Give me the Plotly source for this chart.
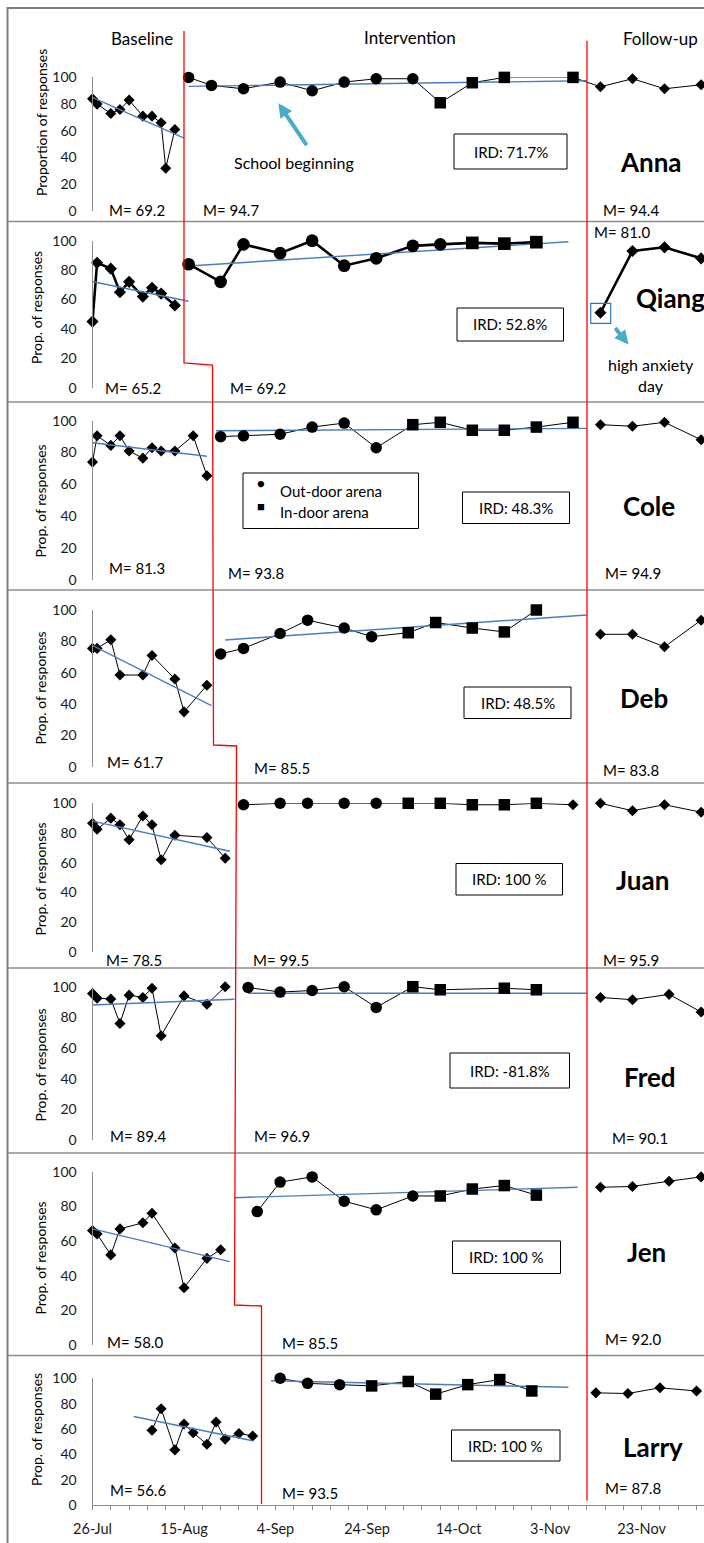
import datetime as dt
import plotly.graph_objects as go

# ---------------- data ----------------
participants = ["Anna", "Qiang", "Cole", "Deb", "Juan", "Fred", "Jen", "Larry"]
y_titles = ["Proportion of responses"] + ["Prop. of responses"] * 7
phase_names = ["Baseline", "Intervention", "Follow-up"]
m_baseline = ["69.2", "65.2", "81.3", "61.7", "78.5", "89.4", "58.0", "56.6"]
m_intervention = ["94.7", "69.2", "93.8", "85.5", "99.5", "96.9", "85.5", "93.5"]
m_followup = ["94.4", "81.0", "94.9", "83.8", "95.9", "90.1", "92.0", "87.8"]
ird_values = ["71.7%", "52.8%", "48.3%", "48.5%", "100 %", "-81.8%", "100 %", "100 %"]
x_tick_dates = ["2010-07-26", "2010-08-15", "2010-09-04", "2010-09-24",
                "2010-10-14", "2010-11-03", "2010-11-23"]
x_tick_labels = ["26-Jul", "15-Aug", "4-Sep", "24-Sep", "14-Oct", "3-Nov", "23-Nov"]
y_ticks = [0, 20, 40, 60, 80, 100]
legend_labels = ["Out-door arena", "In-door arena"]

# Anna
anna_bl_dates = ["2010-07-26", "2010-07-27", "2010-07-30", "2010-08-01", "2010-08-03",
                 "2010-08-06", "2010-08-08", "2010-08-10", "2010-08-11", "2010-08-13"]
anna_bl_vals = [84, 80, 73, 76, 83, 71, 71, 66, 32, 61]
anna_bl_trend_dates = ["2010-07-25", "2010-08-15"]
anna_bl_trend_vals = [86.5, 54.5]
anna_int_dates = ["2010-08-16", "2010-08-21", "2010-08-28", "2010-09-05", "2010-09-12",
                  "2010-09-19", "2010-09-26", "2010-10-04", "2010-10-10", "2010-10-17",
                  "2010-10-24", "2010-11-08"]
anna_int_vals = [100, 94, 91.5, 96.5, 90, 96.5, 99, 99, 81, 96, 100, 100]
anna_int_arena = ["out", "out", "out", "out", "out", "out", "out", "out", "in", "in", "in", "in"]
anna_int_trend_dates = ["2010-08-16", "2010-11-11"]
anna_int_trend_vals = [93.3, 97.5]
anna_fu_dates = ["2010-11-14", "2010-11-21", "2010-11-28", "2010-12-06"]
anna_fu_vals = [93, 99, 91.5, 94.5]

# Qiang
qiang_bl_dates = ["2010-07-26", "2010-07-27", "2010-07-30", "2010-08-01", "2010-08-03",
                  "2010-08-06", "2010-08-08", "2010-08-10", "2010-08-13"]
qiang_bl_vals = [45, 85, 81, 65, 72, 62, 68, 64, 56]
qiang_bl_trend_dates = ["2010-07-25", "2010-08-16"]
qiang_bl_trend_vals = [72.8, 58.8]
qiang_int_dates = ["2010-08-16", "2010-08-23", "2010-08-28", "2010-09-05", "2010-09-12",
                   "2010-09-19", "2010-09-26", "2010-10-04", "2010-10-10", "2010-10-17",
                   "2010-10-24", "2010-10-31"]
qiang_int_vals = [84, 72, 97.5, 91.5, 100, 83, 88, 96.5, 97.5, 98.5, 98, 99]
qiang_int_arena = ["out", "out", "out", "out", "out", "out", "out", "out", "out", "in", "in", "in"]
qiang_int_trend_dates = ["2010-08-16", "2010-11-07"]
qiang_int_trend_vals = [82.8, 99.3]
qiang_fu_dates = ["2010-11-14", "2010-11-21", "2010-11-28", "2010-12-06"]
qiang_fu_vals = [51, 93, 95.5, 88]

# Cole
cole_bl_dates = ["2010-07-26", "2010-07-27", "2010-07-30", "2010-08-01", "2010-08-03",
                 "2010-08-06", "2010-08-08", "2010-08-10", "2010-08-13", "2010-08-17",
                 "2010-08-20"]
cole_bl_vals = [74, 90.5, 84.5, 90.5, 81, 76.5, 83, 81, 81, 90.5, 65.5]
cole_bl_trend_dates = ["2010-07-26", "2010-08-20"]
cole_bl_trend_vals = [86.2, 77.7]
cole_int_dates = ["2010-08-23", "2010-08-28", "2010-09-05", "2010-09-12", "2010-09-19",
                  "2010-09-26", "2010-10-04", "2010-10-10", "2010-10-17", "2010-10-24",
                  "2010-10-31", "2010-11-08"]
cole_int_vals = [90, 90.5, 91.5, 96, 98.5, 83, 97.5, 99, 94, 94, 96, 99]
cole_int_arena = ["out", "out", "out", "out", "out", "out", "in", "in", "in", "in", "in", "in"]
cole_int_trend_dates = ["2010-08-22", "2010-11-11"]
cole_int_trend_vals = [93.7, 95.2]
cole_fu_dates = ["2010-11-14", "2010-11-21", "2010-11-28", "2010-12-06"]
cole_fu_vals = [97.5, 96.5, 99, 88]

# Deb
deb_bl_dates = ["2010-07-26", "2010-07-27", "2010-07-30", "2010-08-01", "2010-08-06",
                "2010-08-08", "2010-08-13", "2010-08-15", "2010-08-20"]
deb_bl_vals = [75.5, 75.5, 81, 58.5, 58.5, 71, 56, 35, 52]
deb_bl_trend_dates = ["2010-07-25", "2010-08-21"]
deb_bl_trend_vals = [78.8, 39]
deb_int_dates = ["2010-08-23", "2010-08-28", "2010-09-05", "2010-09-11", "2010-09-19",
                 "2010-09-25", "2010-10-03", "2010-10-09", "2010-10-17", "2010-10-24",
                 "2010-10-31"]
deb_int_vals = [72, 75.5, 85, 93.5, 88.5, 83, 85.5, 92, 88.5, 86, 100]
deb_int_arena = ["out", "out", "out", "out", "out", "out", "in", "in", "in", "in", "in"]
deb_int_trend_dates = ["2010-08-24", "2010-11-11"]
deb_int_trend_vals = [80.9, 96.8]
deb_fu_dates = ["2010-11-14", "2010-11-21", "2010-11-28", "2010-12-06"]
deb_fu_vals = [84.5, 84.5, 76.5, 93.5]

# Juan
juan_bl_dates = ["2010-07-26", "2010-07-27", "2010-07-30", "2010-08-01", "2010-08-03",
                 "2010-08-06", "2010-08-08", "2010-08-10", "2010-08-13", "2010-08-20",
                 "2010-08-24"]
juan_bl_vals = [86.5, 82.5, 90, 85.5, 75.5, 91.5, 85.5, 62, 78.5, 77, 63]
juan_bl_trend_dates = ["2010-07-26", "2010-08-25"]
juan_bl_trend_vals = [88, 67.7]
juan_int_dates = ["2010-08-28", "2010-09-05", "2010-09-11", "2010-09-19", "2010-09-26",
                  "2010-10-03", "2010-10-10", "2010-10-17", "2010-10-24", "2010-10-31",
                  "2010-11-08"]
juan_int_vals = [99, 100, 100, 100, 100, 100, 100, 99, 99, 100, 99]
juan_int_arena = ["out", "out", "out", "out", "out", "in", "in", "in", "in", "in", "other"]
juan_int_trend_dates = []
juan_int_trend_vals = []
juan_fu_dates = ["2010-11-14", "2010-11-21", "2010-11-28", "2010-12-06"]
juan_fu_vals = [100, 95, 99, 94]

# Fred
fred_bl_dates = ["2010-07-26", "2010-07-27", "2010-07-30", "2010-08-01", "2010-08-03",
                 "2010-08-06", "2010-08-08", "2010-08-10", "2010-08-15", "2010-08-20",
                 "2010-08-24"]
fred_bl_vals = [95.5, 92.5, 92, 76, 94.5, 93, 99, 68, 94, 88.5, 100]
fred_bl_trend_dates = ["2010-07-26", "2010-08-26"]
fred_bl_trend_vals = [88.1, 91.8]
fred_int_dates = ["2010-08-29", "2010-09-05", "2010-09-12", "2010-09-19", "2010-09-26",
                  "2010-10-04", "2010-10-10", "2010-10-24", "2010-10-31"]
fred_int_vals = [99.5, 96.5, 97.5, 100, 86.5, 100, 98, 99, 98]
fred_int_arena = ["out", "out", "out", "out", "out", "in", "in", "in", "in"]
fred_int_trend_dates = ["2010-08-29", "2010-11-11"]
fred_int_trend_vals = [95.7, 95.7]
fred_fu_dates = ["2010-11-14", "2010-11-21", "2010-11-29", "2010-12-06"]
fred_fu_vals = [93, 91.5, 95, 83.5]

# Jen
jen_bl_dates = ["2010-07-26", "2010-07-27", "2010-07-30", "2010-08-01", "2010-08-06",
                "2010-08-08", "2010-08-13", "2010-08-15", "2010-08-20", "2010-08-23"]
jen_bl_vals = [66, 64, 52, 67, 70.5, 76, 56, 33, 50, 55]
jen_bl_trend_dates = ["2010-07-26", "2010-08-25"]
jen_bl_trend_vals = [67, 48.1]
jen_int_dates = ["2010-08-31", "2010-09-05", "2010-09-12", "2010-09-19", "2010-09-26",
                 "2010-10-04", "2010-10-10", "2010-10-17", "2010-10-24", "2010-10-31"]
jen_int_vals = [77, 94, 97, 83, 78, 86, 86, 90, 92, 86.5]
jen_int_arena = ["out", "out", "out", "out", "out", "out", "in", "in", "in", "in"]
jen_int_trend_dates = ["2010-08-26", "2010-11-09"]
jen_int_trend_vals = [85, 91]
jen_fu_dates = ["2010-11-14", "2010-11-21", "2010-11-29", "2010-12-06"]
jen_fu_vals = [91, 91.5, 94.5, 97]

# Larry
larry_bl_dates = ["2010-08-08", "2010-08-10", "2010-08-13", "2010-08-15", "2010-08-17",
                  "2010-08-20", "2010-08-22", "2010-08-24", "2010-08-27", "2010-08-30"]
larry_bl_vals = [59, 76, 43.5, 64, 57, 48, 65.5, 52, 56.5, 54.5]
larry_bl_trend_dates = ["2010-08-04", "2010-08-30"]
larry_bl_trend_vals = [69.9, 50.7]
larry_int_dates = ["2010-09-05", "2010-09-11", "2010-09-18", "2010-09-25", "2010-10-03",
                   "2010-10-09", "2010-10-16", "2010-10-23", "2010-10-30"]
larry_int_vals = [100, 96, 95, 94, 97.5, 87.5, 95, 99, 90]
larry_int_arena = ["out", "out", "out", "in", "in", "in", "in", "in", "in"]
larry_int_trend_dates = ["2010-09-03", "2010-11-07"]
larry_int_trend_vals = [98.1, 92.9]
larry_fu_dates = ["2010-11-13", "2010-11-20", "2010-11-27", "2010-12-05"]
larry_fu_vals = [88.5, 88, 92.5, 90]

series = [
    (anna_bl_dates, anna_bl_vals, anna_bl_trend_dates, anna_bl_trend_vals, anna_int_dates, anna_int_vals,
     anna_int_arena, anna_int_trend_dates, anna_int_trend_vals, anna_fu_dates, anna_fu_vals),
    (qiang_bl_dates, qiang_bl_vals, qiang_bl_trend_dates, qiang_bl_trend_vals, qiang_int_dates, qiang_int_vals,
     qiang_int_arena, qiang_int_trend_dates, qiang_int_trend_vals, qiang_fu_dates, qiang_fu_vals),
    (cole_bl_dates, cole_bl_vals, cole_bl_trend_dates, cole_bl_trend_vals, cole_int_dates, cole_int_vals,
     cole_int_arena, cole_int_trend_dates, cole_int_trend_vals, cole_fu_dates, cole_fu_vals),
    (deb_bl_dates, deb_bl_vals, deb_bl_trend_dates, deb_bl_trend_vals, deb_int_dates, deb_int_vals,
     deb_int_arena, deb_int_trend_dates, deb_int_trend_vals, deb_fu_dates, deb_fu_vals),
    (juan_bl_dates, juan_bl_vals, juan_bl_trend_dates, juan_bl_trend_vals, juan_int_dates, juan_int_vals,
     juan_int_arena, juan_int_trend_dates, juan_int_trend_vals, juan_fu_dates, juan_fu_vals),
    (fred_bl_dates, fred_bl_vals, fred_bl_trend_dates, fred_bl_trend_vals, fred_int_dates, fred_int_vals,
     fred_int_arena, fred_int_trend_dates, fred_int_trend_vals, fred_fu_dates, fred_fu_vals),
    (jen_bl_dates, jen_bl_vals, jen_bl_trend_dates, jen_bl_trend_vals, jen_int_dates, jen_int_vals,
     jen_int_arena, jen_int_trend_dates, jen_int_trend_vals, jen_fu_dates, jen_fu_vals),
    (larry_bl_dates, larry_bl_vals, larry_bl_trend_dates, larry_bl_trend_vals, larry_int_dates, larry_int_vals,
     larry_int_arena, larry_int_trend_dates, larry_int_trend_vals, larry_fu_dates, larry_fu_vals),
]

# ---------------- layout / style ----------------
W, H = 704, 1543
FONT = "Lato"
BLUE = "#4a7ebb"
TEAL = "#4bacc6"
RED = "#ff0000"
GRAY = "#7f7f7f"
AX_X = 92.5           # pixel column of the first date
PX_PER_DAY = 4.576
DAY0 = dt.datetime(2010, 7, 26)
X_END = DAY0 + dt.timedelta(days=(W - AX_X) / PX_PER_DAY)
DAY_MS = 86400000
SYMBOL = {"out": "circle", "in": "square", "other": "diamond"}


def fx(p):
    return p / W


def fy(p):
    return 1 - p / H


# per panel pixel geometry: (y of 0, y of 100)
panel_y = [(211, 77.4), (387.7, 240.7), (580, 420.7), (766.7, 610),
           (951.7, 803.3), (1140, 986.7), (1345, 1171.7), (1505, 1378.3)]
m_pos = [[(137, 210), (231, 210), (631, 210)],
         [(132.5, 388), (258, 388), (622, 232)],
         [(137, 568), (256, 573), (633, 573)],
         [(135, 762), (282, 768), (631, 770)],
         [(134, 960), (281, 960), (631, 960)],
         [(138, 1136), (282, 1136), (640, 1138)],
         [(135, 1342), (310, 1343), (633, 1339)],
         [(138, 1490), (310, 1493), (633, 1488)]]
ird_box = [(454, 567, 134, 169), (457, 563.5, 308, 341), (462.5, 569.5, 492, 523.5),
           (464, 571, 687, 718.5), (456, 562.5, 863.5, 895), (450, 569.5, 1053, 1088),
           (452.5, 560.5, 1241, 1273.5), (451.5, 560, 1430, 1461)]
name_pos = [(651, 162), (670, 298), (649, 506), (644, 698), (642, 880), (650, 1077),
            (646, 1252), (653, 1447)]
ytitle_pos = [(42, 123), (36, 308), (39.5, 501), (39.5, 688), (39.5, 879), (39.5, 1065),
              (39.5, 1258), (36, 1430)]

fig = go.Figure()
layout_axes = {}
for i, s in enumerate(series):
    (bl_d, bl_v, blt_d, blt_v, in_d, in_v, in_a, int_d, int_v, fu_d, fu_v) = s
    yname = "y" if i == 0 else f"y{i + 1}"
    bold = participants[i] == "Qiang"
    lw = 2.6 if bold else 1
    msz = 1.1 if bold else 1.0
    common = dict(xaxis="x", yaxis=yname, showlegend=False, cliponaxis=False, hoverinfo="skip")
    dia = dict(symbol="diamond", size=8.5 * msz, color="black", opacity=1, line=dict(width=0))
    # baseline
    fig.add_trace(go.Scatter(x=bl_d, y=bl_v, mode="lines+markers",
                             line=dict(color="black", width=lw), marker=dia, **common))
    fig.add_trace(go.Scatter(x=blt_d, y=blt_v, mode="lines", line=dict(color=BLUE, width=1.4), **common))
    # intervention
    if participants[i] == "Anna":
        fig.add_trace(go.Scatter(x=[in_d[-1], fu_d[0]], y=[in_v[-1], fu_v[0]], mode="lines",
                                 line=dict(color="black", width=lw), **common))
    fig.add_trace(go.Scatter(x=in_d, y=in_v, mode="lines", line=dict(color="black", width=lw), **common))
    if int_d:
        fig.add_trace(go.Scatter(x=int_d, y=int_v, mode="lines", line=dict(color=BLUE, width=1.4), **common))
    syms = [SYMBOL[a] for a in in_a]
    sizes = [(8.5 if a == "other" else 11.5) * msz for a in in_a]
    fig.add_trace(go.Scatter(x=in_d, y=in_v, mode="markers",
                             marker=dict(symbol=syms, size=sizes, sizemode="diameter", color="black",
                                         opacity=1, line=dict(width=0, color="black")), **common))
    # follow-up
    fig.add_trace(go.Scatter(x=fu_d, y=fu_v, mode="lines+markers",
                             line=dict(color="black", width=lw), marker=dia, **common))

    y0, y100 = panel_y[i]
    layout_axes["yaxis" if i == 0 else f"yaxis{i + 1}"] = dict(
        domain=[fy(y0), fy(y100)], range=[0, 100], anchor="x",
        tickmode="array", tickvals=y_ticks, ticks="", showgrid=False, zeroline=False,
        showline=True, linecolor="#8c8c8c", linewidth=1, ticklabelstandoff=12,
        tickfont=dict(family=FONT, size=14, color="#1a1a1a"), automargin=False, fixedrange=True)

layout_axes["xaxis"] = dict(
    domain=[fx(AX_X), 1], range=[DAY0, X_END], type="date", anchor="y8",
    tickmode="array", tickvals=x_tick_dates, ticktext=x_tick_labels,
    ticks="outside", ticklen=4, tickcolor="#8c8c8c", tickwidth=1,
    minor=dict(tickmode="linear", tick0="2010-07-26", dtick=4 * DAY_MS, ticks="outside",
               ticklen=4, tickcolor="#8c8c8c", showgrid=False),
    showline=True, linecolor="#8c8c8c", linewidth=1, showgrid=False, zeroline=False,
    ticklabelstandoff=7, tickfont=dict(family=FONT, size=14.5, color="#1a1a1a"),
    automargin=False, fixedrange=True)

# ---------------- decorations ----------------
shapes = []
ann = []


def line(x0, y0, x1, y1, color, width):
    shapes.append(dict(type="line", xref="paper", yref="paper", x0=fx(x0), y0=fy(y0),
                       x1=fx(x1), y1=fy(y1), line=dict(color=color, width=width)))


def rect(x0, x1, y0, y1, color, width):
    shapes.append(dict(type="rect", xref="paper", yref="paper", x0=fx(x0), x1=fx(x1),
                       y0=fy(y0), y1=fy(y1), line=dict(color=color, width=width),
                       fillcolor="rgba(0,0,0,0)"))


def text(x, y, s, size=15, xanchor="center", **kw):
    d = dict(x=fx(x), y=fy(y), xref="paper", yref="paper", text=s, showarrow=False,
             font=dict(family=FONT, size=size, color="black"), xanchor=xanchor, yanchor="middle")
    d.update(kw)
    ann.append(d)


# outer frame and panel separators
rect(7.5, 740, 8, 1580, GRAY, 2)
for yy in [221.5, 402, 590, 783, 968, 1153, 1355.5]:
    line(7.5, yy, 720, yy, "#8c8c8c", 1.5)

# phase change lines
red_path = [(184, 31), (184, 363), (212.5, 365), (213.5, 745), (236.5, 746), (234.5, 1305),
            (261.5, 1306), (261.5, 1504)]
path = "M " + " L ".join(f"{fx(a):.5f},{fy(b):.5f}" for a, b in red_path)
shapes.append(dict(type="path", xref="paper", yref="paper", path=path,
                   line=dict(color=RED, width=1.3)))
line(587, 40.7, 587, 1500.7, RED, 1.3)

# phase labels
for (xx, yy), s in zip([(141.5, 38), (410, 37), (660, 38)], phase_names):
    text(xx, yy, s, size=17)

for i in range(8):
    # axis titles
    xx, yy = ytitle_pos[i]
    text(xx, yy, y_titles[i], size=14, textangle=-90)
    # means
    for (mx, my), val in zip(m_pos[i], [m_baseline[i], m_intervention[i], m_followup[i]]):
        text(mx, my, "M= " + val, size=15)
    # IRD boxes
    x0, x1, y0, y1 = ird_box[i]
    rect(x0, x1, y0, y1, "black", 1)
    text((x0 + x1) / 2, (y0 + y1) / 2, "IRD: " + ird_values[i], size=15)
    # names
    nx, ny = name_pos[i]
    text(nx, ny, "<b>" + participants[i] + "</b>", size=26)

# legend (Cole panel)
rect(243, 418.5, 473, 528.5, "black", 1)
text(260.5, 482.5, "●", size=13)
text(260.5, 506.5, "■", size=13)
text(277.5, 491, legend_labels[0], size=15, xanchor="left")
text(277.5, 512, legend_labels[1], size=15, xanchor="left")

# Anna annotation
ann.append(dict(x=fx(278.4), y=fy(103.3), xref="paper", yref="paper", ax=29.2, ay=43.4,
                axref="pixel", ayref="pixel", text="", showarrow=True, arrowhead=2,
                arrowsize=0.7, arrowwidth=4, arrowcolor=TEAL))
text(294, 162, "School beginning", size=16)

# Qiang annotation
rect(590.7, 610.7, 303.3, 323.3, "#2e75b6", 1.2)
ann.append(dict(x=fx(628.5), y=fy(344.5), xref="paper", yref="paper", ax=-14.5, ay=-18,
                axref="pixel", ayref="pixel", text="", showarrow=True, arrowhead=2,
                arrowsize=0.7, arrowwidth=4, arrowcolor=TEAL))
text(650.7, 364.3, "high anxiety", size=16)
text(650.7, 385, "day", size=16)

fig.update_layout(
    width=W, height=H, margin=dict(l=0, r=0, t=0, b=0, pad=0),
    paper_bgcolor="white", plot_bgcolor="rgba(0,0,0,0)", template="none",
    showlegend=False, shapes=shapes, annotations=ann, **layout_axes)

fig.write_html("out.html")
